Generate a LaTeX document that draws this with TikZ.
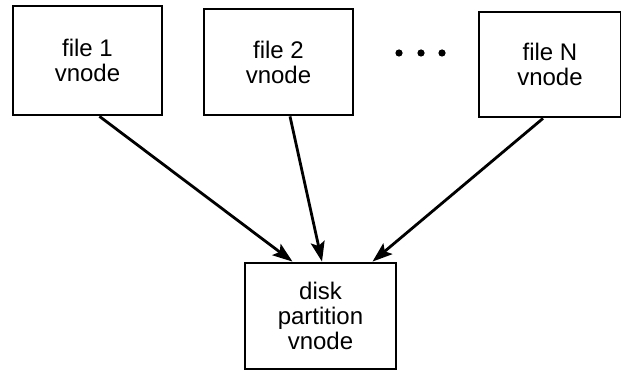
\documentclass[tikz,border=0pt]{standalone}
\usepackage{fontspec}
\setmainfont{Liberation Sans}
\usetikzlibrary{arrows.meta}
\begin{document}
\begin{tikzpicture}[x=1pt,y=-1pt,font=\fontsize{24}{25}\selectfont,
  vbox/.style={draw,line width=2.8pt,align=center,inner sep=0pt},
  ptr/.style={line width=2.8pt,-{Stealth[length=20pt,width=14pt,inset=4pt]}}]
\useasboundingbox(0,0)rectangle(621,371);
\node[vbox,minimum width=149pt,minimum height=109pt](f1)at(87.5,60.5){file 1\\vnode};
\node[vbox,minimum width=149pt,minimum height=106pt](f2)at(278.5,62){file 2\\vnode};
\node[vbox,minimum width=142pt,minimum height=105pt](fn)at(550,64.5){file N\\vnode};
\node[vbox,minimum width=151pt,minimum height=106pt](disk)at(320.5,316){disk\\partition\\vnode};
\foreach \x in {399,421,442}\fill(\x,53)circle(3.6);
\draw[ptr]([xshift=12pt]f1.south)--([xshift=-28pt]disk.north);
\draw[ptr]([xshift=11.5pt]f2.south)--([xshift=1.5pt]disk.north);
\draw[ptr]([xshift=-7pt]fn.south)--([xshift=52pt]disk.north);
\end{tikzpicture}
\end{document}
